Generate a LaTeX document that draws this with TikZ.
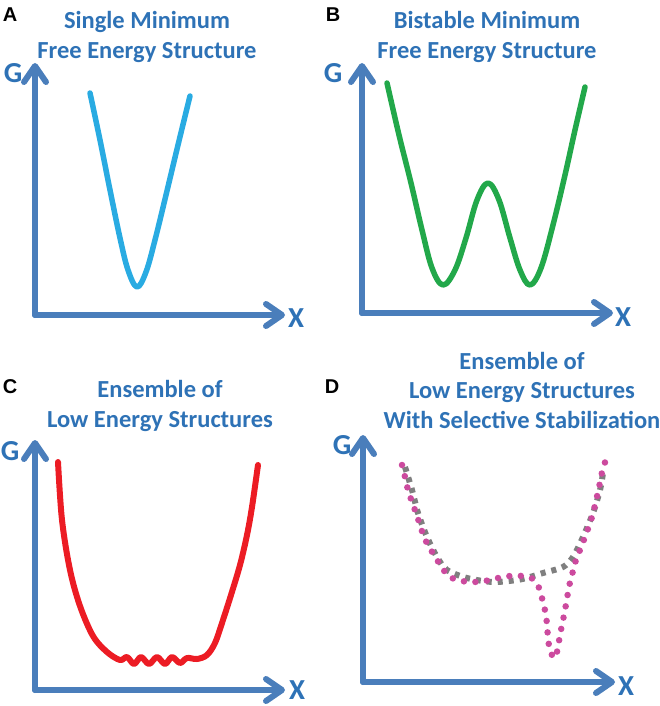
\documentclass[tikz,border=0pt]{standalone}
\usepackage{fontspec}
\setmainfont{Carlito}
\newfontfamily\letterfont{Liberation Sans}
\usepackage{xcolor}
\usetikzlibrary{arrows.meta}
\definecolor{axisblue}{HTML}{4A7EBB}
\definecolor{titleblue}{HTML}{2E72B6}
\definecolor{curvecyan}{HTML}{29ABE2}
\definecolor{curvegreen}{HTML}{22A84A}
\definecolor{curvered}{HTML}{EC1C24}
\definecolor{curvegrey}{HTML}{7F7F7F}
\definecolor{curvemagenta}{HTML}{CC4A9E}

\begin{document}
\begin{tikzpicture}[x=1pt,y=-1pt,
  axisline/.style={draw=axisblue,line width=6pt,line cap=round,line join=round,
    -{Straight Barb[length=16pt,width=22pt,line cap=round,round]}},
  axlabel/.style={text=titleblue,font=\fontsize{29}{29}\selectfont\bfseries,inner sep=0pt},
  paneltitle/.style={text=titleblue,align=center,inner sep=0pt,
    font=\fontsize{24.5}{29.5}\selectfont\bfseries},
  panelletter/.style={font=\fontsize{20}{20}\selectfont\letterfont\bfseries,inner sep=0pt},
  curve/.style={line width=5.5pt,line cap=round,line join=round}]
\useasboundingbox (0,0) rectangle (660,706);

% panel A
\node[panelletter] (letA) at (10,15) {A};
\node[paneltitle] (titleA) at (147,37) {Single Minimum\\Free Energy Structure};
\coordinate (oA) at (35,315);
\coordinate (gA) at (35,63);
\coordinate (xA) at (285,315);
\draw[axisline] (oA) -- (gA);
\draw[axisline] (oA) -- (xA);
\node[axlabel] (GA) at (13,73) {G};
\node[axlabel] (XA) at (296,318) {X};
\draw[curve,curvecyan] plot[smooth,tension=0.6] coordinates {(90,93) (100,140) (110,190)
  (120,238) (128,270) (137,287) (146,272) (155,240) (166,195) (178,145) (190,96)};

% panel B
\node[panelletter] (letB) at (333,15) {B};
\node[paneltitle] (titleB) at (487,37) {Bistable Minimum\\Free Energy Structure};
\coordinate (oB) at (362,313);
\coordinate (gB) at (362,63);
\coordinate (xB) at (613,313);
\draw[axisline] (oB) -- (gB);
\draw[axisline] (oB) -- (xB);
\node[axlabel] (GB) at (333,73) {G};
\node[axlabel] (XB) at (623,317) {X};
\draw[curve,curvegreen] plot[smooth,tension=0.6] coordinates {(387,83) (399,135) (411,183)
  (422,230) (432,268) (443,285) (455,270) (466,238) (477,200) (488,183) (499,200)
  (510,238) (520,270) (530,285) (541,268) (553,225) (565,175) (575,130) (585,87)};

% panel C
\node[panelletter] (letC) at (10,387) {C};
\node[paneltitle] (titleC) at (160,406) {Ensemble of\\Low Energy Structures};
\coordinate (oC) at (35,690);
\coordinate (gC) at (35,440);
\coordinate (xC) at (285,690);
\draw[axisline] (oC) -- (gC);
\draw[axisline] (oC) -- (xC);
\node[axlabel] (GC) at (10,451) {G};
\node[axlabel] (XC) at (297,690) {X};
\draw[curve,curvered,line width=6pt] plot[smooth,tension=0.55] coordinates {(58,462) (62,520)
  (70,570) (80,606) (93,636) (107,652) (120,660) (127,657) (134,664) (141,657)
  (149,664) (157,657) (165,664) (172,657) (180,663) (187,658) (197,659) (207,655)
  (215,643) (222,623) (231,595) (240,565) (247,535) (252,507) (258,465)};

% panel D
\node[panelletter] (letD) at (332,387) {D};
\node[paneltitle] (titleD) at (522,390) {Ensemble of\\Low Energy Structures\\With Selective Stabilization};
\coordinate (oD) at (363,682);
\coordinate (gD) at (363,435);
\coordinate (xD) at (615,682);
\draw[axisline] (oD) -- (gD);
\draw[axisline] (oD) -- (xD);
\node[axlabel] (GD) at (342,445) {G};
\node[axlabel] (XD) at (626,686) {X};
\draw[curve,curvegrey,line width=6pt,line cap=butt,dash pattern=on 5pt off 6pt] plot[smooth]
  coordinates {(405,467) (412,490) (418,513) (427,537) (437,557) (447,570) (467,578)
  (493,582) (517,580) (530,577) (543,573) (563,567) (573,557) (583,537) (593,513)
  (600,490) (603,473)};
\draw[curve,curvemagenta,line width=6.5pt,dash pattern=on 0pt off 11.5pt] plot[smooth,tension=0.5]
  coordinates {(402,465) (405,477) (408,490) (412,502) (416,513) (420,525) (424,537)
  (429,547) (436,558) (442,568) (450,577) (462,581) (473,582) (485,581) (498,578)
  (510,576) (522,576) (533,579) (540,590) (543,603) (546,615) (548,637) (550,651)
  (555,658) (558,647) (560,635) (565,610) (569,587) (572,575) (575,563) (580,550)
  (585,537) (592,517) (598,492) (603,468) (607,458)};
\end{tikzpicture}
\end{document}
